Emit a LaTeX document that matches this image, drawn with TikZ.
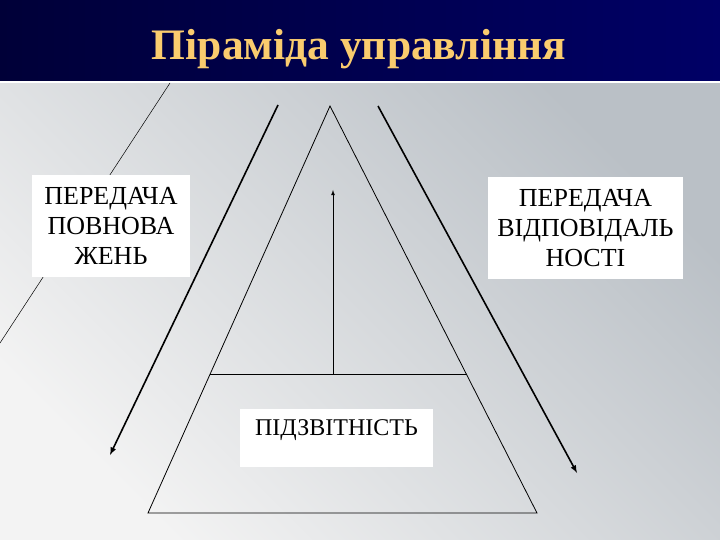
\documentclass[tikz,border=0pt]{standalone}
\usepackage{fontspec}
\setmainfont{Liberation Serif}
\definecolor{navy}{RGB}{0,0,102}
\definecolor{gold}{RGB}{250,204,110}
\definecolor{bgdark}{RGB}{186,192,198}
\definecolor{bglight}{RGB}{243,243,243}

\begin{document}
\begin{tikzpicture}[x=1pt, y=-1pt,
	labelbox/.style={fill=white, inner sep=0pt, align=center, font=\fontsize{26}{30}\selectfont},
	flow/.style={line width=1.6pt, -latex},
	edge/.style={line width=0.8pt}]

	\useasboundingbox (0,0) rectangle (720,540);

	% background and title bar
	\shade[top color=bgdark, bottom color=bglight, shading angle=-45] (0,82) rectangle (720,540);
	\shade[left color=navy!55!black, right color=navy] (0,0) rectangle (720,81);
	\draw[white, line width=1.5pt] (0,82) -- (720,82);
	\node[anchor=base, text=gold, font=\fontsize{43.5}{48}\bfseries\selectfont] (title) at (359,60) {Піраміда управління};

	\coordinate (decoA) at (170,83);
	\coordinate (decoB) at (0,343);
	\draw[line width=0.5pt] (decoA) -- (decoB);

	% pyramid
	\coordinate (apex) at (330,106);
	\coordinate (baseL) at (148,513);
	\coordinate (baseR) at (537,513);
	\coordinate (midL) at (210,374);
	\coordinate (midR) at (467,374);
	\coordinate (midC) at (333,374);
	\coordinate (upTip) at (333,190);

	\draw[edge] (apex) -- (baseL) -- (baseR) -- cycle;
	\draw[edge] (midL) -- (midR);
	\draw[edge, -latex] (midC) -- (upTip);

	% side arrows
	\coordinate (delegTop) at (278,105);
	\coordinate (delegEnd) at (110,455);
	\coordinate (respTop) at (378,106);
	\coordinate (respEnd) at (577,473);

	\draw[flow] (delegTop) -- (delegEnd);
	\draw[flow] (respTop) -- (respEnd);

	% boxes
	\node[labelbox, minimum width=158pt, minimum height=102pt] (powers) at (111,226) {ПЕРЕДАЧА\\ПОВНОВА\\ЖЕНЬ};
	\node[labelbox, minimum width=195pt, minimum height=102pt] (duty) at (585.5,228) {ПЕРЕДАЧА\\ВІДПОВІДАЛЬ\\НОСТІ};
	\node[labelbox, font=\fontsize{24}{30}\selectfont, anchor=base, minimum width=193pt, text height=26pt, text depth=32pt] (report) at (336.5,435) {ПІДЗВІТНІСТЬ};

\end{tikzpicture}
\end{document}
